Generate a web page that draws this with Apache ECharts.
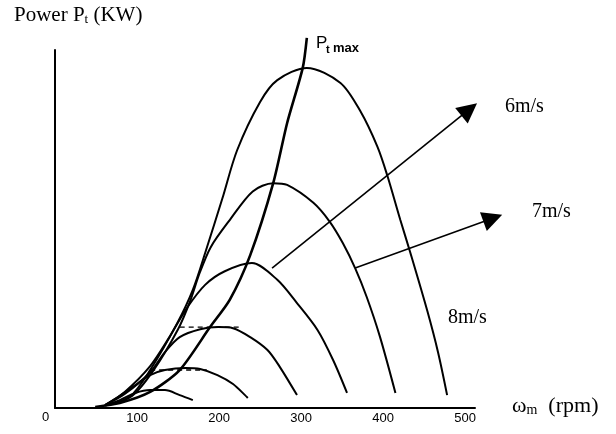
<!DOCTYPE html>
<html>
<head>
<meta charset="utf-8">
<script src="https://cdn.jsdelivr.net/npm/echarts@6/dist/echarts.min.js"></script>
<style>
html,body{margin:0;padding:0;background:#fff}
#chart{width:616px;height:434px}
</style>
</head>
<body>
<div id="chart"></div>
<script>
// Rotor speed (rpm) and turbine power (relative units) for each wind-speed curve
const rpmA = [61, 91, 116, 149, 168, 184, 204, 222, 250, 271, 307, 348, 372, 393, 405, 421, 433, 454, 467, 478];
const powA = [0.8, 3.1, 10.6, 23.7, 33, 44, 58.5, 72, 85.5, 91.6, 95, 90.8, 83, 73, 65, 52.5, 43.5, 27, 15.5, 3.6];

const rpmB = [64, 94, 120, 150, 165, 176, 190, 213, 241, 266, 283, 315, 335, 351, 366, 380, 396, 415];
const powB = [0.8, 3.4, 10.5, 22, 30, 37.5, 45, 52.5, 60.5, 62.8, 62.3, 57.3, 52, 46, 39, 31, 20, 4.2];

const rpmC = [61, 85, 116, 140, 161, 183, 207, 240, 271, 295, 320, 339, 356];
const powC = [0.8, 4.5, 11.7, 20, 28, 34.4, 38.2, 40.5, 35.8, 29.3, 21.8, 13.4, 4.2];

const rpmD = [61, 85, 116, 134, 152, 177, 199, 217, 238, 259, 274, 295];
const powD = [0.8, 3.9, 10, 15.6, 19.8, 22, 22.6, 22.3, 19.8, 16.2, 11.5, 3.6];

const rpmE = [61, 79, 98, 116, 134, 159, 177, 198, 217, 235];
const powE = [0.8, 3.4, 6.4, 9.2, 10.6, 11.2, 10.9, 9.2, 6.7, 2.8];

const rpmF = [61, 79, 98, 116, 134, 152, 168];
const powF = [0.6, 2.2, 4.2, 5, 5, 3.6, 2.2];

// Locus of maximum power points (Pt max)
const rpmMax = [49, 79, 116, 152, 189, 213, 238, 266, 283, 302, 307];
const powMax = [0.3, 1.4, 4.5, 10.6, 22.6, 30.2, 42.7, 62.8, 79.6, 95, 103.4];

// Short dashed guide segments at two curve peaks
const guideD = [[152, 22.6], [226, 22.6]];
const guideE = [[116, 10.6], [185, 10.6]];

// Wind-speed arrows: [start, end] in (rpm, power)
const arrow6 = [[264.6, 39.1], [505, 83.4]];
const arrow7 = [[365.9, 39.1], [533.7, 53]];

const xTicks = [0, 100, 200, 300, 400, 500];

function pairs(xs, ys) { return xs.map((x, i) => [x, ys[i]]); }

const curveStyle = { color: '#000', width: 2 };

function curve(name, xs, ys, extra) {
  return Object.assign({
    name: name,
    type: 'line',
    data: pairs(xs, ys),
    smooth: 0.3,
    showSymbol: false,
    symbol: 'none',
    silent: true,
    lineStyle: curveStyle
  }, extra || {});
}

const chart = echarts.init(document.getElementById('chart'), null, { renderer: 'canvas' });

chart.setOption({
  animation: false,
  backgroundColor: '#fff',
  grid: { left: 55, right: 141, top: 50, bottom: 26, containLabel: false },
  xAxis: {
    type: 'value',
    min: 0,
    max: 512,
    interval: 100,
    axisLine: { show: true, lineStyle: { color: '#000', width: 2 } },
    axisTick: { show: false },
    splitLine: { show: false },
    axisLabel: {
      margin: 4,
      color: '#000',
      fontFamily: 'Liberation Sans',
      fontSize: 13,
      formatter: function (v) {
        return (xTicks.indexOf(v) > 0) ? String(v) : '';
      }
    }
  },
  yAxis: {
    type: 'value',
    min: 0,
    max: 100,
    axisLine: { show: true, lineStyle: { color: '#000', width: 2 } },
    axisTick: { show: false },
    axisLabel: { show: false },
    splitLine: { show: false }
  },
  series: [
    curve('A', rpmA, powA),
    curve('B', rpmB, powB),
    curve('C', rpmC, powC),
    curve('D', rpmD, powD),
    curve('E', rpmE, powE),
    curve('F', rpmF, powF),
    curve('Pmax', rpmMax, powMax, { clip: false, smooth: 0.25, lineStyle: { color: '#000', width: 2.6 } }),
    {
      type: 'line', data: guideD, showSymbol: false, symbol: 'none', silent: true,
      lineStyle: { color: '#000', width: 1.4, type: [5, 4] }
    },
    {
      type: 'line', data: guideE, showSymbol: false, symbol: 'none', silent: true,
      lineStyle: { color: '#000', width: 1.4, type: [5, 4] }
    },
    {
      type: 'lines',
      coordinateSystem: 'cartesian2d',
      clip: false,
      silent: true,
      symbol: ['none', 'triangle'],
      symbolSize: 20,
      lineStyle: { color: '#000', width: 1.6, opacity: 1, curveness: 0 },
      data: [
        { coords: arrow6 },
        { coords: arrow7 }
      ]
    }
  ],
  graphic: [
    {
      type: 'text', left: 14, top: 5,
      style: {
        text: '{a|Power P}{s|t}{a| (KW)}',
        rich: {
          a: { fontFamily: 'Liberation Serif', fontSize: 21, fill: '#000' },
          s: { fontFamily: 'Liberation Serif', fontSize: 13, fill: '#000', padding: [9, 0, 0, 0] }
        }
      }
    },
    {
      type: 'text', left: 316, top: 35,
      style: { text: 'P', fontFamily: 'Liberation Sans', fontSize: 17, fill: '#000' }
    },
    {
      type: 'text', left: 326, top: 44,
      style: { text: 't', fontFamily: 'Liberation Sans', fontWeight: 'bold', fontSize: 11, fill: '#000' }
    },
    {
      type: 'text', left: 333, top: 42,
      style: { text: 'max', fontFamily: 'Liberation Sans', fontWeight: 'bold', fontSize: 13, fill: '#000' }
    },
    {
      type: 'text', left: 505, top: 97,
      style: { text: '6m/s', fontFamily: 'Liberation Serif', fontSize: 20, fill: '#000' }
    },
    {
      type: 'text', left: 532, top: 202,
      style: { text: '7m/s', fontFamily: 'Liberation Serif', fontSize: 20, fill: '#000' }
    },
    {
      type: 'text', left: 448, top: 308,
      style: { text: '8m/s', fontFamily: 'Liberation Serif', fontSize: 20, fill: '#000' }
    },
    {
      type: 'text', left: 42, top: 411,
      style: { text: '0', fontFamily: 'Liberation Sans', fontSize: 13, fill: '#000' }
    },
    {
      type: 'text', left: 512, top: 395,
      style: {
        text: '{a|ω}{s|m}{a|  (rpm)}',
        rich: {
          a: { fontFamily: 'Liberation Serif', fontSize: 22, fill: '#000' },
          s: { fontFamily: 'Liberation Serif', fontSize: 14, fill: '#000', padding: [9, 0, 0, 0] }
        }
      }
    }
  ]
});
</script>
</body>
</html>
